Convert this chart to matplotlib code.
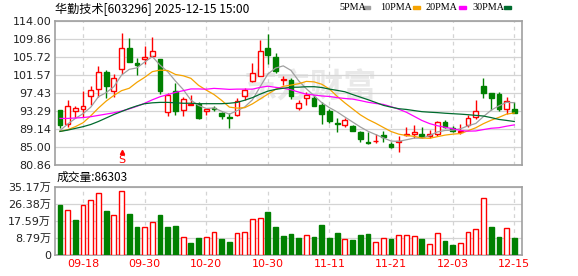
import numpy as np
import matplotlib.pyplot as plt

plt.rcParams['font.family'] = ['DejaVu Sans', 'Noto Sans CJK SC']

# trading days shown on the chart
dates = ['09-15', '09-16', '09-17', '09-18', '09-19', '09-22', '09-23', '09-24', '09-25', '09-26',
         '09-29', '09-30', '10-09', '10-10', '10-13', '10-14', '10-15', '10-16', '10-17', '10-20',
         '10-21', '10-22', '10-23', '10-24', '10-27', '10-28', '10-29', '10-30', '10-31', '11-03',
         '11-04', '11-05', '11-06', '11-07', '11-10', '11-11', '11-12', '11-13', '11-14', '11-17',
         '11-18', '11-19', '11-20', '11-21', '11-24', '11-25', '11-26', '11-27', '11-28', '12-01',
         '12-02', '12-03', '12-04', '12-05', '12-08', '12-09', '12-10', '12-11', '12-12', '12-15']
tick_dates = ['09-18', '09-30', '10-20', '10-30', '11-11', '11-21', '12-03', '12-15']

opens = [93.5, 90.2, 93.4, 93.8, 96.7, 98.3, 102.2, 97.9, 103.0, 107.9,
         104.4, 105.2, 106.0, 105.2, 93.0, 97.9, 93.5, 94.8, 94.9, 93.3,
         94.1, 92.9, 92.0, 92.5, 96.8, 100.3, 101.5, 107.9, 105.8, 100.4,
         100.4, 94.1, 96.2, 96.4, 94.8, 93.3, 90.5, 90.05, 89.9, 88.4,
         86.2, 86.3, 87.8, 85.7, 86.1, 87.7, 87.9, 88.1, 87.6, 88.1,
         90.7, 89.4, 88.45, 90.0, 91.9, 99.1, 97.4, 97.2, 93.8, 93.8]
highs = [93.6, 95.8, 94.5, 97.9, 99.0, 103.8, 102.8, 101.9, 111.3, 110.2,
         105.6, 108.3, 110.4, 105.3, 97.5, 99.7, 96.5, 96.9, 95.5, 93.9,
         94.4, 93.1, 92.9, 96.2, 98.7, 104.3, 109.6, 111.1, 106.8, 101.3,
         101.0, 95.9, 97.7, 97.0, 95.4, 93.7, 91.6, 91.6, 90.1, 88.8,
         88.4, 87.9, 88.6, 86.2, 87.6, 89.6, 90.0, 89.6, 89.0, 91.1,
         91.3, 89.8, 90.2, 92.3, 95.9, 101.0, 97.5, 97.8, 96.5, 95.5]
lows = [89.5, 89.7, 91.8, 92.0, 94.6, 96.5, 96.3, 96.5, 101.9, 104.5,
        101.7, 104.1, 105.8, 97.2, 92.1, 92.4, 92.2, 94.8, 91.4, 92.5,
        93.2, 91.5, 89.3, 92.2, 95.9, 100.0, 101.3, 104.1, 102.0, 99.2,
        96.0, 93.5, 94.6, 94.4, 90.4, 90.6, 88.4, 89.6, 88.6, 86.2,
        85.8, 86.0, 86.2, 84.7, 83.9, 87.6, 87.2, 87.2, 87.1, 87.5,
        89.3, 88.5, 88.1, 89.6, 91.5, 96.3, 93.5, 93.4, 92.6, 92.9]
closes = [90.1, 94.4, 94.0, 94.4, 98.1, 102.2, 99.0, 100.9, 107.8, 104.7,
          103.9, 105.7, 107.2, 97.9, 97.1, 93.2, 96.0, 95.0, 91.6, 93.7,
          93.8, 92.1, 91.7, 95.6, 98.1, 102.0, 107.2, 106.3, 102.5, 100.6,
          96.8, 95.2, 97.1, 94.5, 92.6, 91.0, 90.3, 91.2, 88.8, 86.9,
          86.0, 86.5, 87.4, 85.1, 86.5, 87.9, 88.4, 87.3, 88.1, 90.7,
          89.6, 88.7, 88.8, 91.6, 93.4, 97.4, 96.3, 93.8, 95.7, 92.9]

ma5 = [88.8, 90.3, 91.6, 92.7, 94.19, 96.62, 97.54, 98.92, 101.6, 102.92,
       103.26, 104.6, 105.86, 103.88, 102.36, 100.22, 98.28, 95.84, 94.58, 93.9,
       94.02, 93.24, 92.58, 93.38, 94.26, 95.9, 98.92, 101.84, 103.22, 103.72,
       102.68, 100.28, 98.44, 96.84, 95.24, 94.08, 93.1, 91.92, 90.78, 89.64,
       88.64, 87.88, 87.12, 86.38, 86.3, 86.68, 87.06, 87.04, 87.64, 88.48,
       88.82, 88.9, 89.2, 89.9, 90.44, 92.04, 93.5, 94.5, 95.32, 95.22]
ma10 = [88.6, 89.0, 89.7, 90.6, 92.2, 94.0, 95.6, 96.9, 98.0, 98.56,
        99.94, 101.07, 102.39, 102.74, 102.64, 101.74, 101.44, 100.85, 99.23, 98.13,
        97.12, 95.76, 94.21, 93.98, 94.08, 94.96, 96.08, 97.21, 98.3, 98.99,
        99.29, 99.6, 100.14, 100.03, 99.48, 98.38, 96.69, 95.18, 93.81, 92.44,
        91.36, 90.49, 89.52, 88.58, 87.97, 87.66, 87.47, 87.08, 87.01, 87.39,
        87.75, 87.97, 88.11, 88.76, 89.45, 90.40, 91.19, 91.84, 92.6, 92.86]
ma20 = [91.6, 91.6, 91.7, 91.8, 92.0, 92.3, 92.6, 92.9, 93.3, 93.8,
        94.4, 95.1, 95.9, 96.6, 97.1, 97.6, 98.0, 98.4, 98.4, 98.34,
        98.53, 98.42, 98.3, 98.36, 98.36, 98.35, 98.76, 99.03, 98.77, 98.56,
        98.21, 97.68, 97.18, 97.0, 96.78, 96.67, 96.39, 96.2, 96.06, 95.72,
        95.33, 95.05, 94.83, 94.31, 93.73, 93.02, 92.08, 91.13, 90.41, 89.92,
        89.56, 89.23, 88.82, 88.67, 88.71, 89.03, 89.33, 89.46, 89.81, 90.11]
ma30 = [88.6, 88.9, 89.3, 89.7, 90.2, 90.9, 91.7, 92.5, 93.2, 93.9,
        94.5, 95.0, 95.2, 95.3, 95.3, 95.2, 95.1, 95.1, 95.0, 95.0,
        95.0, 95.0, 95.1, 95.3, 95.8, 96.4, 97.2, 97.9, 98.3, 98.56,
        98.78, 98.81, 98.91, 98.92, 98.73, 98.36, 98.07, 97.75, 97.11, 96.52,
        95.92, 95.28, 94.62, 94.2, 93.84, 93.67, 93.41, 93.16, 93.04, 92.94,
        92.8, 92.69, 92.59, 92.46, 92.3, 92.15, 91.79, 91.37, 91.14, 90.89]

# volume in units of 1e4 (万)
volume = [25.7, 23.2, 18.0, 25.6, 28.1, 31.7, 22.6, 20.4, 32.9, 21.1,
          14.4, 14.4, 17.0, 20.6, 14.4, 14.9, 9.1, 6.2, 8.7, 9.3,
          11.7, 8.2, 6.7, 11.1, 11.7, 18.4, 18.9, 22.1, 14.4, 9.8,
          10.8, 8.7, 10.1, 9.3, 15.4, 8.7, 11.3, 8.2, 7.7, 10.3,
          10.8, 6.7, 8.7, 8.2, 10.1, 10.1, 9.6, 8.2, 5.7, 11.1,
          7.2, 5.1, 6.0, 11.7, 13.4, 29.2, 14.4, 9.3, 13.9, 8.6303]

price_ticks = [80.86, 85.00, 89.14, 93.29, 97.43, 101.57, 105.72, 109.86, 114.00]
vol_ticks = [0, 8.79, 17.59, 26.38, 35.17]
vol_tick_labels = ['0', '8.79万', '17.59万', '26.38万', '35.17万']

RED = '#ff0000'
GREEN = '#008000'
GRID = '#d4d4d4'
FRAME = '#a0a0a0'

x = np.arange(len(dates))
o = np.array(opens)
c = np.array(closes)
up = c >= o
edge = np.where(up, RED, GREEN)
face = np.where(up, 'white', GREEN)
body_low = np.minimum(o, c)
body_h = np.maximum(np.abs(c - o), 0.08)

# volume colour follows the change against the previous close
prev = np.concatenate([[o[0]], c[:-1]])
vup = c >= prev
vedge = np.where(vup, RED, GREEN)
vface = np.where(vup, 'white', GREEN)

tick_pos = [dates.index(d) for d in tick_dates]

fig = plt.figure(figsize=(5.78, 2.76), dpi=100)
ax = fig.add_axes([0.096, 0.4022, 0.8071, 0.5206])
axv = fig.add_axes([0.096, 0.0761, 0.8071, 0.2475])

# watermark
ax.text(0.545, 0.536, '东方财富', transform=ax.transAxes, ha='center', va='center',
        fontsize=24, fontweight='bold', color='#e9e9e9', zorder=0,
        family=['Noto Sans CJK SC'])

ax.vlines(x, lows, highs, colors=edge, linewidth=1.0, zorder=2)
ax.bar(x, body_h, bottom=body_low, width=0.62, color=face, edgecolor=edge,
       linewidth=1.0, zorder=3)

ax.plot(x, ma5, color='#a0a0a0', lw=0.9, zorder=4)
ax.plot(x, ma10, color='#f5a300', lw=0.9, zorder=4)
ax.plot(x, ma20, color='#ff00ff', lw=0.9, zorder=4)
ax.plot(x, ma30, color='#006b2e', lw=0.9, zorder=4)

# sell marker
ax.plot(8, 83.9, marker='^', ms=3, color=RED, zorder=5)
ax.text(8, 82.1, 'S', color=RED, fontsize=8, ha='center', va='center', zorder=5)

axv.bar(x, volume, width=0.62, color=vface, edgecolor=vedge, linewidth=1.0, zorder=3)

for a in (ax, axv):
    a.set_xlim(-0.58, 60.0)
    a.set_xticks(tick_pos)
    a.grid(axis='x', color=GRID, linestyle=(0, (3, 3)), linewidth=0.9)
    a.grid(axis='y', color=GRID, linestyle='-', linewidth=0.9)
    a.set_axisbelow(True)
    a.tick_params(length=0, pad=3)
    for s in a.spines.values():
        s.set_color(FRAME)
        s.set_linewidth(1.2)

ax.set_ylim(80.86, 114.0)
ax.set_yticks(price_ticks)
ax.set_yticklabels(['%.2f' % v for v in price_ticks], fontsize=8, color='#222222')
ax.set_xticklabels([])

axv.set_ylim(0, 35.17)
axv.set_yticks(vol_ticks)
axv.set_yticklabels(vol_tick_labels, fontsize=8, color='#222222')
axv.set_xticklabels(tick_dates, fontsize=8, color=RED)

fig.text(0.0955, 0.965, '华勤技术[603296] 2025-12-15 15:00', fontsize=8.7,
         ha='left', va='center', family=['Noto Sans CJK SC'])
fig.text(0.0986, 0.3587, '成交量:%d' % round(volume[-1] * 10000), fontsize=8.5,
         ha='left', va='center', family=['Noto Sans CJK SC'])

# legend row, top right
legend = [('5PMA', '#a0a0a0', 339, 363), ('10PMA', '#f5a300', 380, 413),
          ('20PMA', '#ff00ff', 426, 459), ('30PMA', '#006b2e', 472, 504)]
for name, col, tx, dx in legend:
    fig.text(tx / 578, 0.973, name, fontsize=7.3, ha='left', va='center',
             family=['Liberation Serif'])
    fig.patches.append(plt.Rectangle((dx / 578, 0.966), 7 / 578, 3.5 / 276,
                                     transform=fig.transFigure, color=col, figure=fig))

fig.savefig('out.png', dpi=100)
